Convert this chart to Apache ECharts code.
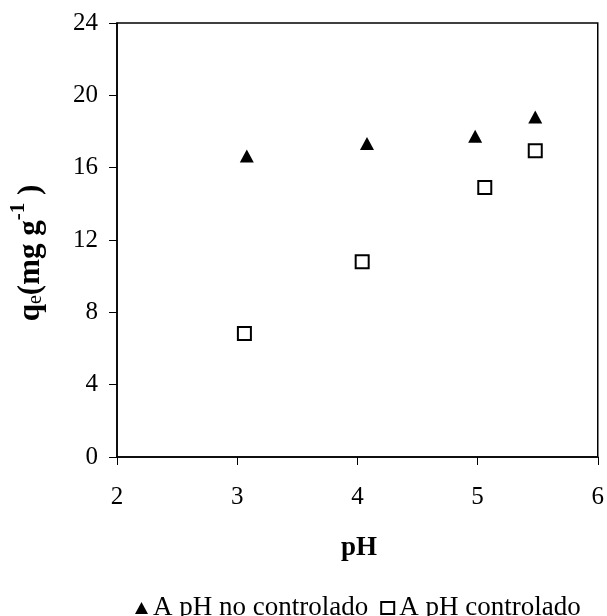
<!DOCTYPE html>
<html>
<head>
<meta charset="utf-8">
<script src="https://cdn.jsdelivr.net/npm/echarts@6/dist/echarts.min.js"></script>
<style>
  html, body { margin: 0; padding: 0; background: #fff; }
  #chart { width: 607px; height: 616px; }
</style>
</head>
<body>
<div id="chart"></div>
<script>
// pH values and adsorption capacities (qe, mg/g)
const phUncontrolled = [3.08, 4.08, 4.98, 5.48];
const qeUncontrolled = [16.65, 17.33, 17.74, 18.80];
const phControlled = [3.06, 4.04, 5.06, 5.48];
const qeControlled = [6.83, 10.80, 14.90, 16.94];

const seriesNames = ['A pH no controlado', 'A pH controlado'];
const xTicks = [2, 3, 4, 5, 6];
const yTicks = [0, 4, 8, 12, 16, 20, 24];

const FONT = '"Liberation Serif", "Times New Roman", serif';

const pairs = (xs, ys) => xs.map((x, i) => [x, ys[i]]);

const chart = echarts.init(document.getElementById('chart'), null, { renderer: 'canvas' });

chart.setOption({
  backgroundColor: '#fff',
  animation: false,
  grid: {
    left: 117, right: 7, top: 23, bottom: 159,
    show: true, borderColor: '#000', borderWidth: 1.5
  },
  xAxis: {
    type: 'value',
    min: xTicks[0], max: xTicks[xTicks.length - 1], interval: 1,
    axisLine: { show: true, lineStyle: { color: '#000', width: 1.5 } },
    axisTick: { show: true, length: 8, lineStyle: { color: '#000', width: 1 } },
    axisLabel: { color: '#000', fontFamily: FONT, fontSize: 25, margin: 28 },
    splitLine: { show: false }
  },
  yAxis: {
    type: 'value',
    min: yTicks[0], max: yTicks[yTicks.length - 1], interval: 4,
    axisLine: { show: true, lineStyle: { color: '#000', width: 1.5 } },
    axisTick: { show: true, length: 8, lineStyle: { color: '#000', width: 1 } },
    axisLabel: { color: '#000', fontFamily: FONT, fontSize: 25, margin: 19 },
    splitLine: { show: false }
  },
  legend: {
    left: 130, top: 588,
    itemWidth: 13, itemHeight: 12, itemGap: 12,
    textStyle: { color: '#000', fontFamily: FONT, fontSize: 27, lineHeight: 30 },
    data: [
      { name: seriesNames[0], icon: 'triangle' },
      { name: seriesNames[1], icon: 'rect' }
    ]
  },
  graphic: [
    {
      type: 'text',
      x: 359, y: 548,
      style: {
        text: 'pH',
        fill: '#000',
        font: 'bold 27px ' + FONT,
        align: 'center',
        verticalAlign: 'middle'
      }
    },
    {
      type: 'text',
      x: 27, y: 253,
      rotation: Math.PI / 2,
      style: {
        text: '{b|q}{s|e}{b|(mg g}{p|-1}{b| )}',
        align: 'center',
        verticalAlign: 'middle',
        rich: {
          b: { fill: '#000', font: 'bold 31px ' + FONT, verticalAlign: 'bottom', lineHeight: 38 },
          s: { fill: '#000', font: '20px ' + FONT, verticalAlign: 'bottom', lineHeight: 33 },
          p: { fill: '#000', font: 'bold 21px ' + FONT, verticalAlign: 'top', lineHeight: 38 }
        }
      }
    }
  ],
  series: [
    {
      name: seriesNames[0],
      type: 'scatter',
      symbol: 'triangle',
      symbolSize: [14, 13],
      itemStyle: { color: '#000', opacity: 1 },
      data: pairs(phUncontrolled, qeUncontrolled)
    },
    {
      name: seriesNames[1],
      type: 'scatter',
      symbol: 'rect',
      symbolSize: 13,
      itemStyle: { color: '#fff', borderColor: '#000', borderWidth: 2, opacity: 1 },
      data: pairs(phControlled, qeControlled)
    }
  ]
});
</script>
</body>
</html>
